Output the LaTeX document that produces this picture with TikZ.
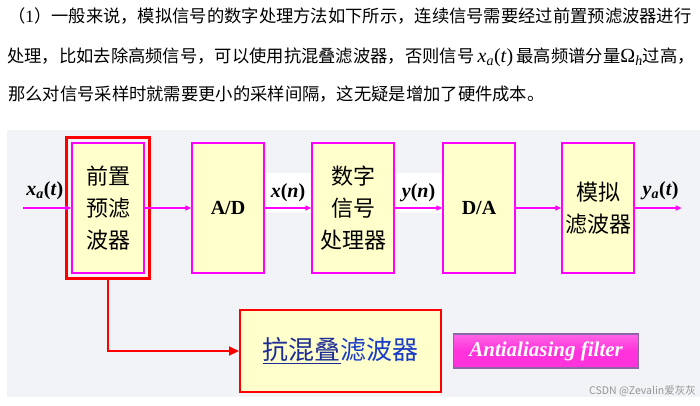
\documentclass[tikz,border=0pt]{standalone}
\usepackage{fontspec}
\setmainfont{Liberation Serif}
\newfontfamily\cjk{Noto Sans CJK SC}
\usetikzlibrary{arrows.meta,positioning,calc,fit}
\definecolor{blockPink}{RGB}{255,0,255}
\definecolor{blockFill}{RGB}{255,255,204}
\definecolor{frameRed}{RGB}{255,0,0}
\definecolor{panelGray}{RGB}{242,243,246}
\definecolor{titleBlue}{RGB}{25,60,200}
\definecolor{titleDark}{RGB}{30,45,150}
\definecolor{tagPink}{RGB}{255,50,220}
\definecolor{tagEdge}{RGB}{140,100,170}
\definecolor{markGray}{RGB}{150,150,150}
\tikzset{
  block/.style={draw=blockPink, fill=blockFill, line width=1.4pt, minimum width=72pt,
                minimum height=130pt, align=center, inner sep=0pt,
                font=\cjk\fontsize{22}{32}\selectfont},
  latinblock/.style={block, font=\bfseries\fontsize{20}{24}\selectfont},
  redframe/.style={draw=frameRed, line width=2.5pt, inner sep=5pt},
  antibox/.style={draw=frameRed, fill=blockFill, line width=2pt, minimum width=201pt,
                  minimum height=82pt, font=\cjk\fontsize{26}{30}\selectfont, text=titleBlue},
  tagbox/.style={draw=tagEdge, line width=1.2pt, top color=tagPink!75!white, bottom color=tagPink,
                 middle color=tagPink, minimum width=185pt, minimum height=34pt, text=white,
                 font=\bfseries\itshape\fontsize{21}{24}\selectfont},
  sigarrow/.style={-{Triangle[length=6pt,width=5pt]}, draw=blockPink, line width=1.3pt},
  redarrow/.style={-{Triangle[length=10pt,width=9pt]}, draw=frameRed, line width=2pt},
  siglabel/.style={font=\bfseries\fontsize{20}{24}\selectfont, inner sep=1pt},
  paraline/.style={anchor=west, inner sep=0pt, font=\cjk\fontsize{17.3}{20}\selectfont}
}
\newcommand{\sigx}[3]{\textit{#1}\textsubscript{\textit{#2}}\textup{(}\textit{#3}\textup{)}}
\newcommand{\seqn}[2]{\textit{#1}\textup{(}\textit{#2}\textup{)}}

\begin{document}
\begin{tikzpicture}[x=1pt, y=-1pt]
\useasboundingbox (0,0) rectangle (700,405);
\fill[panelGray] (7,130) rectangle (700,397);
% text above the diagram
\node[paraline] (line1) at (8,16) {（{\rmfamily 1}）一般来说，模拟信号的数字处理方法如下所示，连续信号需要经过前置预滤波器进行};
\node[paraline] (line2) at (7,57) {处理，比如去除高频信号，可以使用抗混叠滤波器，否则信号{\rmfamily\fontsize{20}{20}\selectfont\,\sigx{x}{a}{t}\,}最高频谱分量{\rmfamily\fontsize{20}{20}\selectfont Ω\textsubscript{\textit{h}}}过高，};
\node[paraline] (line3) at (8,94) {那么对信号采样时就需要更小的采样间隔，这无疑是增加了硬件成本。};
% processing chain
\node[block] (pre) at (108,208) {前置\\预滤\\波器};
\node[redframe, fit=(pre)] (preframe) {};
\node[latinblock, right=46.6pt of pre] (ad) {A/D};
\node[block, minimum width=82pt, right=46.6pt of ad] (dsp) {数字\\信号\\处理器};
\node[latinblock, right=47.6pt of dsp] (da) {D/A};
\node[block, right=45.6pt of da] (ana) {模拟\\滤波器};
\coordinate (in) at ($(pre.west)+(-48pt,0)$);
\coordinate (out) at ($(ana.east)+(47pt,0)$);
% signal labels
\node[siglabel] (xalab) at ($(in)!0.45!(pre.west)+(0,17pt)$) {\sigx{x}{a}{t}};
\node[siglabel, fill=white, minimum width=46pt, minimum height=40pt] (xnlab)
  at ($(ad.east)!0.5!(dsp.west)+(0,15pt)$) {\seqn{x}{n}};
\node[siglabel, fill=white, minimum width=46pt, minimum height=40pt] (ynlab)
  at ($(da.west)!0.5!(dsp.east)+(0,15pt)$) {\seqn{y}{n}};
\node[siglabel] (yalab) at ($(ana.east)!0.55!(out)+(0,17pt)$) {\sigx{y}{a}{t}};
\draw[sigarrow] (in) -- (pre.west);
\draw[sigarrow] (pre.east) -- (ad.west);
\draw[sigarrow] (ad.east) -- (dsp.west);
\draw[sigarrow] (dsp.east) -- (da.west);
\draw[sigarrow] (da.east) -- (ana.west);
\draw[sigarrow] (ana.east) -- (out);
% anti-aliasing filter
\node[antibox] (anti) at (340.5,351) {\textcolor{titleDark}{\underline{抗混叠}}滤波器};
\node[tagbox, right=11pt of anti] (tag) {Antialiasing filter};
\draw[redarrow] (preframe.south) |- (anti.west);
\node[anchor=east, inner sep=0pt, font=\cjk\fontsize{10.5}{12}\selectfont, text=markGray] (mark)
  at (696,391) {CSDN @Zevalin爱灰灰};
\end{tikzpicture}
\end{document}
